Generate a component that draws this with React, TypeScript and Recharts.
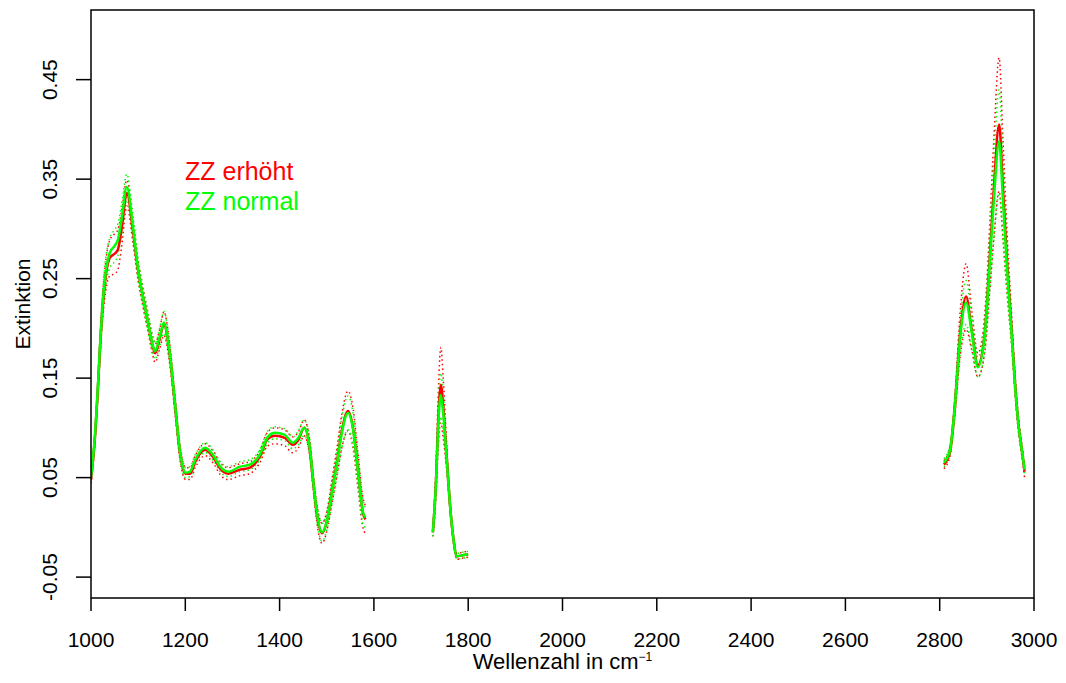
import React from 'react';
import { LineChart, Line, XAxis, YAxis } from 'recharts';

// wavenumbers (cm^-1); 1650 and 2300 are gap rows so the three spectral windows stay apart
const wavenumber = [
  1000, 1008, 1015, 1020, 1025, 1032, 1040, 1050, 1057, 1065,
  1076, 1089, 1100, 1110, 1121, 1130, 1136, 1146, 1155, 1162,
  1168, 1178, 1189, 1201, 1210, 1221, 1242, 1260, 1274, 1291,
  1316, 1337, 1358, 1375, 1390, 1411, 1428, 1440, 1452, 1464,
  1471, 1479, 1490, 1501, 1511, 1522, 1532, 1545, 1556, 1566,
  1577, 1582,
  1650,
  1725, 1732, 1736, 1742, 1747, 1755, 1761, 1768, 1776, 1788, 1800,
  2300,
  2809, 2822, 2832, 2843, 2856, 2868, 2881, 2896, 2907, 2915,
  2926, 2934, 2943, 2953, 2960, 2966, 2975, 2980,
];

// ZZ erhöht: mean extinction
const meanRed = [
  0.048, 0.088, 0.143, 0.188, 0.224, 0.255, 0.271, 0.275, 0.279, 0.300,
  0.336, 0.298, 0.258, 0.232, 0.206, 0.184, 0.175, 0.190, 0.205, 0.191,
  0.170, 0.124, 0.074, 0.054, 0.054, 0.066, 0.078, 0.070, 0.059, 0.054,
  0.058, 0.060, 0.071, 0.089, 0.092, 0.090, 0.083, 0.088, 0.100, 0.079,
  0.047, 0.014, -0.006, 0.008, 0.036, 0.067, 0.097, 0.117, 0.099, 0.058,
  0.014, 0.008,
  null,
  -0.005, 0.050, 0.103, 0.143, 0.120, 0.066, 0.025, -0.009, -0.029, -0.028, -0.027,
  null,
  0.063, 0.077, 0.121, 0.192, 0.232, 0.198, 0.163, 0.198, 0.278, 0.342,
  0.405, 0.342, 0.265, 0.195, 0.143, 0.108, 0.075, 0.056,
];

// ZZ normal: mean extinction
const meanGreen = [
  0.050, 0.090, 0.145, 0.190, 0.226, 0.259, 0.276, 0.283, 0.289, 0.310,
  0.342, 0.302, 0.259, 0.232, 0.206, 0.185, 0.177, 0.192, 0.206, 0.192,
  0.171, 0.125, 0.075, 0.055, 0.056, 0.068, 0.080, 0.072, 0.061, 0.056,
  0.061, 0.063, 0.073, 0.091, 0.095, 0.093, 0.085, 0.090, 0.100, 0.080,
  0.048, 0.015, -0.005, 0.008, 0.035, 0.065, 0.095, 0.115, 0.098, 0.058,
  0.015, 0.010,
  null,
  -0.005, 0.048, 0.098, 0.133, 0.115, 0.065, 0.025, -0.009, -0.029, -0.028, -0.027,
  null,
  0.065, 0.078, 0.121, 0.189, 0.226, 0.196, 0.161, 0.196, 0.272, 0.330,
  0.388, 0.330, 0.259, 0.192, 0.142, 0.108, 0.075, 0.058,
];

// half width of the dotted bands
const sdRed = [
  0.004, 0.006, 0.009, 0.011, 0.013, 0.015, 0.018, 0.020, 0.020, 0.018,
  0.013, 0.012, 0.010, 0.010, 0.009, 0.009, 0.009, 0.010, 0.012, 0.011,
  0.010, 0.009, 0.007, 0.006, 0.006, 0.006, 0.006, 0.006, 0.006, 0.006,
  0.006, 0.006, 0.006, 0.007, 0.008, 0.008, 0.008, 0.008, 0.008, 0.008,
  0.008, 0.009, 0.010, 0.010, 0.012, 0.014, 0.017, 0.020, 0.020, 0.018,
  0.015, 0.014,
  null,
  0.004, 0.015, 0.025, 0.038, 0.030, 0.012, 0.006, 0.004, 0.003, 0.003, 0.003,
  null,
  0.004, 0.005, 0.010, 0.022, 0.033, 0.020, 0.012, 0.020, 0.035, 0.050,
  0.067, 0.050, 0.030, 0.015, 0.010, 0.008, 0.006, 0.006,
];

const sdGreen = [
  0.004, 0.006, 0.009, 0.011, 0.013, 0.014, 0.015, 0.016, 0.016, 0.015,
  0.013, 0.011, 0.010, 0.009, 0.009, 0.008, 0.008, 0.009, 0.011, 0.010,
  0.009, 0.008, 0.007, 0.005, 0.005, 0.005, 0.005, 0.005, 0.005, 0.005,
  0.005, 0.005, 0.005, 0.006, 0.006, 0.006, 0.006, 0.007, 0.008, 0.008,
  0.008, 0.009, 0.009, 0.009, 0.011, 0.013, 0.015, 0.017, 0.016, 0.015,
  0.012, 0.010,
  null,
  0.004, 0.012, 0.018, 0.022, 0.018, 0.010, 0.005, 0.004, 0.003, 0.003, 0.003,
  null,
  0.004, 0.005, 0.009, 0.016, 0.022, 0.016, 0.010, 0.016, 0.028, 0.040,
  0.052, 0.040, 0.025, 0.012, 0.009, 0.007, 0.005, 0.004,
];

const xTicks = [1000, 1200, 1400, 1600, 1800, 2000, 2200, 2400, 2600, 2800, 3000];
const yTicks = [-0.05, 0.05, 0.15, 0.25, 0.35, 0.45];

const RED = '#ff0000';
const GREEN = '#00ff00';
const FONT = '"Liberation Sans", Arial, sans-serif';

const W = 1050;
const H = 670;
// plot area inside the svg
const PL = 83, PT = 2, PR = 1026, PB = 590;

const band = (m: (number | null)[], s: (number | null)[], sign: number) =>
  m.map((v, i) => (v == null || s[i] == null ? null : v + sign * (s[i] as number)));

const redHi = band(meanRed, sdRed, 1);
const redLo = band(meanRed, sdRed, -1);
const greenHi = band(meanGreen, sdGreen, 1);
const greenLo = band(meanGreen, sdGreen, -1);

const data = wavenumber.map((x, i) => ({
  x,
  red: meanRed[i],
  green: meanGreen[i],
  redHi: redHi[i],
  redLo: redLo[i],
  greenHi: greenHi[i],
  greenLo: greenLo[i],
}));

const XTick = (props: any) => {
  const { x, payload } = props;
  return (
    <text x={x} y={PB + 49} textAnchor="middle" fontSize={21} fontFamily={FONT} fill="#000">
      {payload.value}
    </text>
  );
};

const YTick = (props: any) => {
  const { y, payload } = props;
  const bx = 49;
  return (
    <text
      x={bx}
      y={y}
      transform={`rotate(-90, ${bx}, ${y})`}
      textAnchor="middle"
      fontSize={21}
      fontFamily={FONT}
      fill="#000"
    >
      {Number(payload.value).toFixed(2)}
    </text>
  );
};

const dotted = '1.5 3';

export default function App() {
  return (
    <div style={{ position: 'relative', width: W, height: H }}>
      <LineChart
        width={W}
        height={H}
        data={data}
        margin={{ top: PT, right: W - PR, left: 0, bottom: H - PB - 60 }}
      >
        <XAxis
          dataKey="x"
          type="number"
          domain={[1000, 3000]}
          ticks={xTicks}
          allowDataOverflow
          axisLine={false}
          tickLine={{ stroke: '#000', strokeWidth: 1.5 }}
          tickSize={13}
          height={60}
          tick={<XTick />}
          interval={0}
        />
        <YAxis
          type="number"
          domain={[-0.071, 0.52]}
          ticks={yTicks}
          allowDataOverflow
          axisLine={false}
          tickLine={{ stroke: '#000', strokeWidth: 1.5 }}
          tickSize={15}
          width={PL}
          tick={<YTick />}
          interval={0}
        />
        <Line type="monotone" dataKey="redHi" stroke={RED} strokeWidth={1.5} strokeDasharray={dotted} dot={false} isAnimationActive={false} />
        <Line type="monotone" dataKey="redLo" stroke={RED} strokeWidth={1.5} strokeDasharray={dotted} dot={false} isAnimationActive={false} />
        <Line type="monotone" dataKey="greenHi" stroke={GREEN} strokeWidth={1.5} strokeDasharray={dotted} dot={false} isAnimationActive={false} />
        <Line type="monotone" dataKey="greenLo" stroke={GREEN} strokeWidth={1.5} strokeDasharray={dotted} dot={false} isAnimationActive={false} />
        <Line type="monotone" dataKey="red" stroke={RED} strokeWidth={2.5} dot={false} isAnimationActive={false} />
        <Line type="monotone" dataKey="green" stroke={GREEN} strokeWidth={2.5} dot={false} isAnimationActive={false} />
      </LineChart>
      <svg
        width={W}
        height={H}
        style={{ position: 'absolute', left: 0, top: 0, pointerEvents: 'none' }}
      >
        <rect x={PL} y={PT} width={PR - PL} height={PB - PT} fill="none" stroke="#000" strokeWidth={1.5} />
        <text x={177} y={172} fontSize={25} fontFamily={FONT} fill={RED}>ZZ erhöht</text>
        <text x={177} y={202} fontSize={25} fontFamily={FONT} fill={GREEN}>ZZ normal</text>
        <text
          x={22}
          y={(PT + PB) / 2}
          transform={`rotate(-90, 22, ${(PT + PB) / 2})`}
          textAnchor="middle"
          fontSize={21}
          fontFamily={FONT}
          fill="#000"
        >
          Extinktion
        </text>
        <text x={(PL + PR) / 2} y={661} textAnchor="middle" fontSize={22} fontFamily={FONT} fill="#000">
          Wellenzahl in cm
          <tspan fontSize={12} dy={-8}>−1</tspan>
        </text>
      </svg>
    </div>
  );
}
